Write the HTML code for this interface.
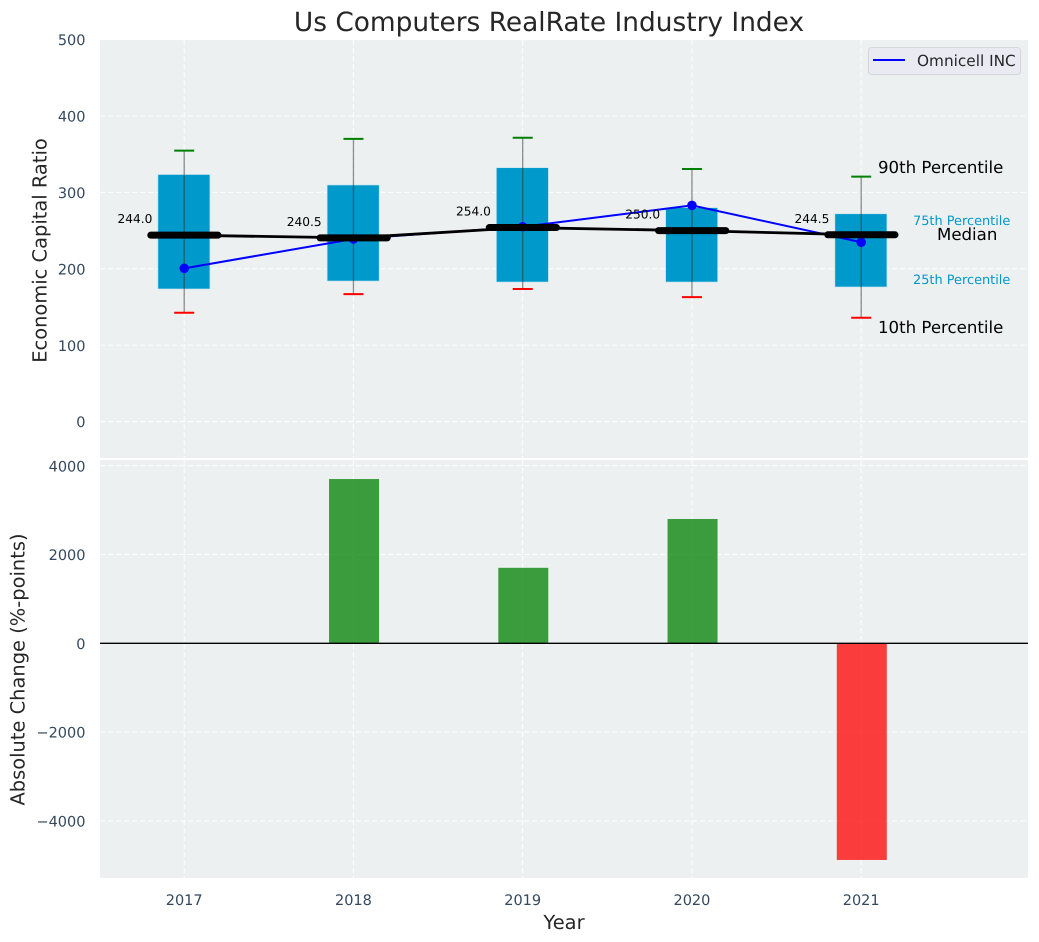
<!DOCTYPE html>
<html lang="en">
<head>
<meta charset="utf-8">
<title>Us Computers RealRate Industry Index</title>
<style>
html,body{margin:0;padding:0;background:#fff;width:1039px;height:942px;overflow:hidden}
svg{display:block;font-family:"DejaVu Sans","Liberation Sans",sans-serif;text-rendering:geometricPrecision}
</style>
</head>
<body>
<svg id="chart" width="1039" height="942" viewBox="0 0 1039 942" xmlns="http://www.w3.org/2000/svg">
  <rect x="100" y="40" width="928" height="418" fill="#ecf0f1"/>
  <rect x="100" y="460" width="928" height="418" fill="#ecf0f1"/>
  <g id="grid"></g>
  <g id="bars"></g>
  <g id="boxes"></g>
  <g id="lines"></g>
  <g id="ticks"></g>
  <text x="549" y="31" font-size="26.4" fill="#262626" text-anchor="middle">Us Computers RealRate Industry Index</text>
  <text transform="translate(46.5,250.5) rotate(-90)" font-size="19.45" fill="#262626" text-anchor="middle">Economic Capital Ratio</text>
  <text transform="translate(24.5,669.5) rotate(-90)" font-size="19.45" fill="#262626" text-anchor="middle">Absolute Change (%-points)</text>
  <text x="564" y="929" font-size="19.45" fill="#262626" text-anchor="middle">Year</text>
  <g>
    <rect x="868.5" y="47.5" width="152" height="27" rx="3" fill="#eaeaf2" stroke="#d5d5dc"/>
    <line x1="873" y1="60" x2="905" y2="60" stroke="#0000ff" stroke-width="2"/>
    <text x="917" y="66" font-size="15.3" fill="#262626">Omnicell INC</text>
  </g>
  <g>
    <text x="878" y="173" font-size="16.6" fill="#000">90th Percentile</text>
    <text x="913" y="225" font-size="12.9" fill="#0099cc">75th Percentile</text>
    <text x="937" y="240" font-size="16.6" fill="#000">Median</text>
    <text x="913" y="284" font-size="12.9" fill="#0099cc">25th Percentile</text>
    <text x="878" y="333" font-size="16.6" fill="#000">10th Percentile</text>
  </g>
</svg>
<script>
var years = [2017, 2018, 2019, 2020, 2021];
var p90 = [354.6, 370, 371.6, 330.6, 320.6];
var p75 = [323.4, 309.7, 332.3, 280, 272];
var medians = [244.0, 240.5, 254.0, 250.0, 244.5];
var p25 = [173.6, 184, 182.7, 182.7, 176.2];
var p10 = [142.5, 166.8, 173.6, 163, 136];
var company = [200.6, 239, 255, 283, 234.7];
var changes = [0, 3700, 1700, 2800, -4880];
var topTicks = [0, 100, 200, 300, 400, 500];
var bottomTicks = [-4000, -2000, 0, 2000, 4000];

var NS = 'http://www.w3.org/2000/svg';
function x(v) { return 184.2 + (v - 2017) * 169.25; }
function yTop(v) { return 421.6 - v * 0.764; }
function yBottom(v) { return 643.3 - v * 0.0444; }

function mk(parent, tag, attrs, txt) {
  var el = document.createElementNS(NS, tag);
  for (var k in attrs) el.setAttribute(k, attrs[k]);
  if (txt !== undefined) el.textContent = txt;
  document.getElementById(parent).appendChild(el);
  return el;
}
var el;
var gridStyle = { stroke: '#ffffff', 'stroke-opacity': 0.85, 'stroke-width': 1.1, 'stroke-dasharray': '5.5 2.5', fill: 'none' };
function withGrid(a) { for (var k in gridStyle) a[k] = gridStyle[k]; return a; }

topTicks.forEach(function (t) {
  var y = yTop(t);
  el = mk('grid', 'line', withGrid({ x1: 100, x2: 1028, y1: y, y2: y }));
  
  
  el = mk('ticks', 'text', { x: 85.5, y: y + 5.6, 'font-size': 14.5, fill: '#34495e', 'text-anchor': 'end' }, String(t));
  
  
});
bottomTicks.forEach(function (t) {
  var y = yBottom(t);
  el = mk('grid', 'line', withGrid({ x1: 100, x2: 1028, y1: y, y2: y }));
  
  
  el = mk('ticks', 'text', { x: 85.5, y: y + 5.6, 'font-size': 14.5, fill: '#34495e', 'text-anchor': 'end' }, String(t).replace('-', '\u2212'));
  
  
});
years.forEach(function (yr) {
  var px = x(yr);
  el = mk('grid', 'line', withGrid({ x1: px, x2: px, y1: 40, y2: 458 }));
  
  
  el = mk('grid', 'line', withGrid({ x1: px, x2: px, y1: 460, y2: 878 }));
  
  
  el = mk('ticks', 'text', { x: px, y: 905, 'font-size': 14.5, fill: '#34495e', 'text-anchor': 'middle' }, String(yr));
  
  
});

/* change bars */
years.forEach(function (yr, i) {
  var v = changes[i];
  var y0 = yBottom(0), y1 = yBottom(v);
  el = mk('bars', 'rect', {
    x: x(yr) - 24.4, width: 50, y: Math.min(y0, y1), height: Math.abs(y1 - y0),
    fill: v >= 0 ? '#008000' : '#ff0000', 'fill-opacity': 0.75
  });
  
  
});
el = mk('bars', 'line', { x1: 100, x2: 1028, y1: yBottom(0), y2: yBottom(0), stroke: '#000', 'stroke-width': 1.4 });



/* percentile boxes */
years.forEach(function (yr, i) {
  var c = x(yr);
  el = mk('boxes', 'rect', {
    x: c - 26.3, width: 52, y: yTop(p75[i]), height: yTop(p25[i]) - yTop(p75[i]),
    fill: '#0099cc', stroke: '#c5e3ee', 'stroke-width': 0.6
  });
  
  
  el = mk('boxes', 'line', { x1: c, x2: c, y1: yTop(p90[i]), y2: yTop(p10[i]), stroke: '#333', 'stroke-opacity': 0.55, 'stroke-width': 1.3 });
  
  
  el = mk('boxes', 'line', { x1: c - 10, x2: c + 10, y1: yTop(p90[i]), y2: yTop(p90[i]), stroke: '#008000', 'stroke-width': 2 });
  
  
  el = mk('boxes', 'line', { x1: c - 10, x2: c + 10, y1: yTop(p10[i]), y2: yTop(p10[i]), stroke: '#ff0000', 'stroke-width': 2 });
  
  
});

/* company line */
function pts(arr) { return years.map(function (yr, i) { return x(yr) + ',' + yTop(arr[i]); }).join(' '); }
el = mk('lines', 'polyline', { points: pts(company), fill: 'none', stroke: '#0000ff', 'stroke-width': 2 });


years.forEach(function (yr, i) {
  el = mk('lines', 'circle', { cx: x(yr), cy: yTop(company[i]), r: 4.8, fill: '#0000ff' });
  
  
});

/* median line, thick median bars and labels */
el = mk('lines', 'polyline', { points: pts(medians), fill: 'none', stroke: '#000', 'stroke-width': 2.8 });


years.forEach(function (yr, i) {
  var c = x(yr), y = yTop(medians[i]);
  el = mk('lines', 'line', { x1: c - 33.4, x2: c + 33.8, y1: y, y2: y, stroke: '#000', 'stroke-width': 7, 'stroke-linecap': 'round' });
  
  
  el = mk('lines', 'text', { x: c - 49.2, y: y - 12, 'font-size': 12.2, fill: '#000', 'text-anchor': 'middle' }, medians[i].toFixed(1));
  
  
});
</script>
</body>
</html>
